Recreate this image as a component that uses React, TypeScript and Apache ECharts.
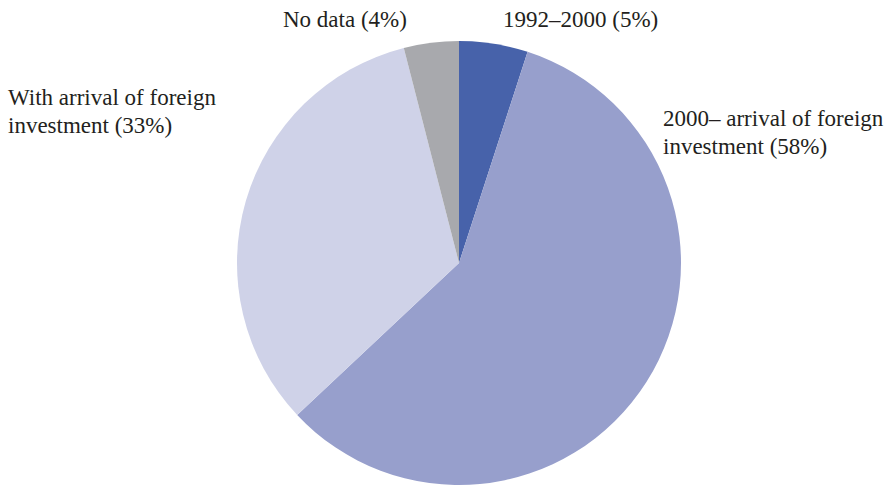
import React, { useEffect, useRef } from "react";
import * as echarts from "echarts";

const categories = [
  "1992–2000",
  "2000– arrival of foreign investment",
  "With arrival of foreign investment",
  "No data",
];
const values = [5, 58, 33, 4];
const labelTexts = [
  "1992–2000 (5%)",
  "2000– arrival of foreign\ninvestment (58%)",
  "With arrival of foreign\ninvestment (33%)",
  "No data (4%)",
];
const colors = ["#4762AA", "#979FCC", "#CFD2E8", "#A8A9AD"];

const labelPos = [
  { x: 503, y: 5 },
  { x: 663, y: 104 },
  { x: 8, y: 83 },
  { x: 283, y: 5 },
];

export default function App() {
  const ref = useRef<HTMLDivElement>(null);
  useEffect(() => {
    if (!ref.current) return;
    const chart = echarts.init(ref.current, null, { renderer: "svg" });
    chart.setOption({
      animation: false,
      backgroundColor: "#ffffff",
      textStyle: { fontFamily: "Liberation Serif" },
      series: [
        {
          type: "pie",
          center: [459, 263],
          radius: [0, 222],
          startAngle: 90,
          clockwise: true,
          label: { show: false },
          labelLine: { show: false },
          emphasis: { disabled: true },
          itemStyle: { borderWidth: 0 },
          data: categories.map((c, i) => ({
            name: c,
            value: values[i],
            itemStyle: { color: colors[i] },
          })),
        },
      ],
      graphic: labelTexts.map((t, i) => ({
        type: "text",
        x: labelPos[i].x,
        y: labelPos[i].y,
        style: {
          text: t,
          font: '23px "Liberation Serif", serif',
          fill: "#231f20",
          lineHeight: 28,
          textAlign: "left",
          textVerticalAlign: "top",
        },
      })),
    });
    return () => chart.dispose();
  }, []);
  return (
    <div
      ref={ref}
      style={{ position: "fixed", left: 0, top: 0, width: 892, height: 486 }}
    />
  );
}
